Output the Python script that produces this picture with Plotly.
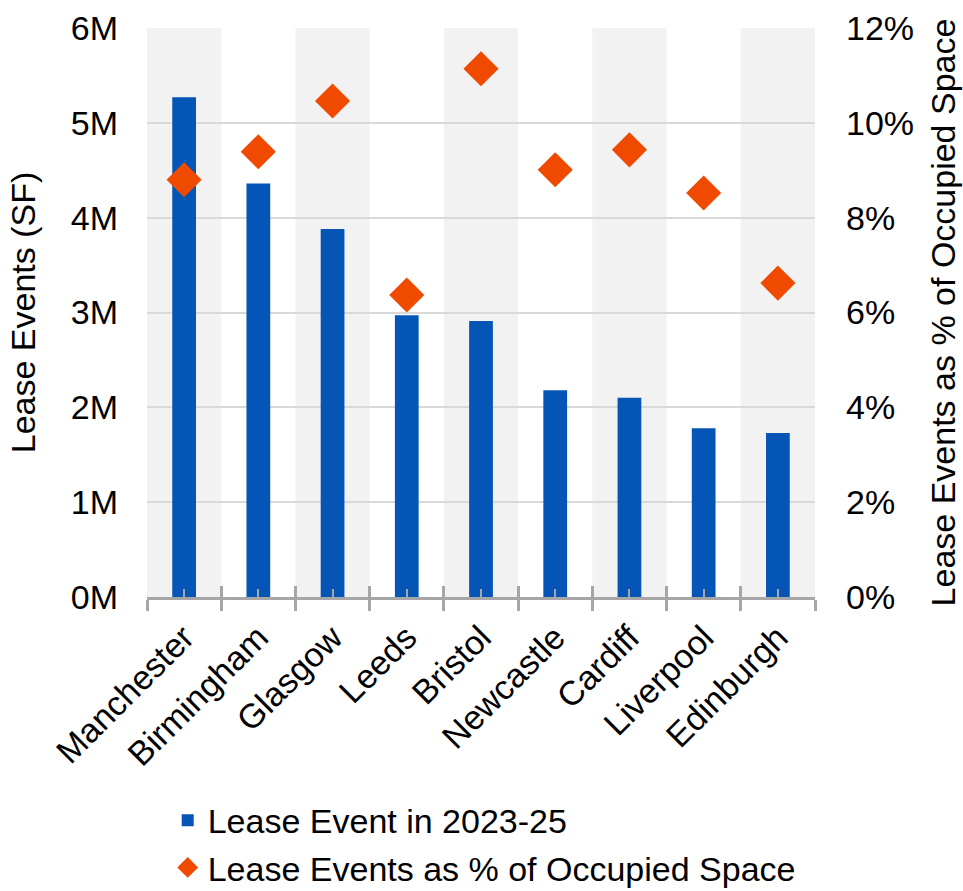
import plotly.graph_objects as go

# Office lease events by city
cities = ["Manchester", "Birmingham", "Glasgow", "Leeds", "Bristol",
          "Newcastle", "Cardiff", "Liverpool", "Edinburgh"]
lease_sf = [5.27e6, 4.36e6, 3.88e6, 2.97e6, 2.91e6, 2.18e6, 2.10e6, 1.78e6, 1.73e6]
pct_occupied = [8.80, 9.39, 10.46, 6.37, 11.14, 9.01, 9.43, 8.52, 6.62]

y_ticks = [0, 1e6, 2e6, 3e6, 4e6, 5e6, 6e6]
y_ticktext = ["0M", "1M", "2M", "3M", "4M", "5M", "6M"]

FONT = "Liberation Sans, Arial, sans-serif"
FS = 34
BLUE = "#0455b5"
ORANGE = "#ef4a00"
AXIS_GREY = "#a6a6a6"

fig = go.Figure()

fig.add_trace(go.Bar(
    x=cities, y=lease_sf, name="Lease Event in 2023-25",
    marker=dict(color=BLUE, line=dict(width=0)), width=0.32,
))
fig.add_trace(go.Scatter(
    x=cities, y=pct_occupied, name="Lease Events as % of Occupied Space",
    mode="markers", yaxis="y2",
    marker=dict(symbol="diamond", size=27, color=ORANGE, line=dict(width=0)),
))
# invisible carriers for the extra tick layers on the category axis
for ax in ("x3", "x4"):
    fig.add_trace(go.Scatter(
        x=cities, y=[0] * len(cities), xaxis=ax, yaxis="y",
        mode="markers", marker=dict(opacity=0), showlegend=False,
        hoverinfo="skip",
    ))

# alternating shaded columns
shapes = []
for i in range(0, len(cities), 2):
    shapes.append(dict(
        type="rect", xref="x", yref="paper", x0=i - 0.5, x1=i + 0.5,
        y0=0, y1=1, fillcolor="#f2f2f2", line=dict(width=0), layer="below",
    ))

cat_common = dict(type="category", categoryorder="array", categoryarray=cities,
                  range=[-0.5, len(cities) - 0.5], automargin=False)

fig.update_layout(
    width=963, height=891,
    margin=dict(l=147, r=148, t=28, b=294, autoexpand=False),
    paper_bgcolor="white", plot_bgcolor="white",
    font=dict(family=FONT, size=FS, color="black"),
    barmode="overlay",
    shapes=shapes,
    xaxis=dict(
        **cat_common,
        showline=True, linecolor=AXIS_GREY, linewidth=3,
        ticks="outside", tickson="boundaries", ticklen=11, tickwidth=3,
        tickcolor=AXIS_GREY, tickangle=-45, showgrid=False,
        tickfont=dict(size=FS), ticklabelstandoff=4,
    ),
    xaxis3=dict(
        **cat_common, overlaying="x", anchor="y",
        ticks="inside", tickson="boundaries", ticklen=11, tickwidth=3,
        tickcolor=AXIS_GREY, showticklabels=False, showgrid=False, showline=False,
    ),
    xaxis4=dict(
        **cat_common, overlaying="x", anchor="y",
        ticks="inside", ticklen=8, tickwidth=2,
        tickcolor=AXIS_GREY, showticklabels=False, showgrid=False, showline=False,
    ),
    yaxis=dict(
        range=[0, 6e6], tickvals=y_ticks, ticktext=y_ticktext, automargin=False,
        showgrid=True, gridcolor="#d9d9d9", gridwidth=1.5, zeroline=False,
        showline=False, ticks="", ticklabelstandoff=28,
        title=dict(text="Lease Events (SF)", font=dict(size=FS), standoff=24),
    ),
    yaxis2=dict(
        range=[0, 12], dtick=2, ticksuffix="%", overlaying="y", side="right",
        showgrid=False, zeroline=False, showline=False, ticks="", automargin=False,
        ticklabelstandoff=30,
        title=dict(text="Lease Events as % of Occupied Space",
                   font=dict(size=FS), standoff=18),
    ),
    legend=dict(
        orientation="v", x=0.031, xanchor="left", y=-0.342, yanchor="top",
        font=dict(size=FS), bgcolor="rgba(0,0,0,0)", tracegroupgap=0,
    ),
)

fig.write_html("out.html")
